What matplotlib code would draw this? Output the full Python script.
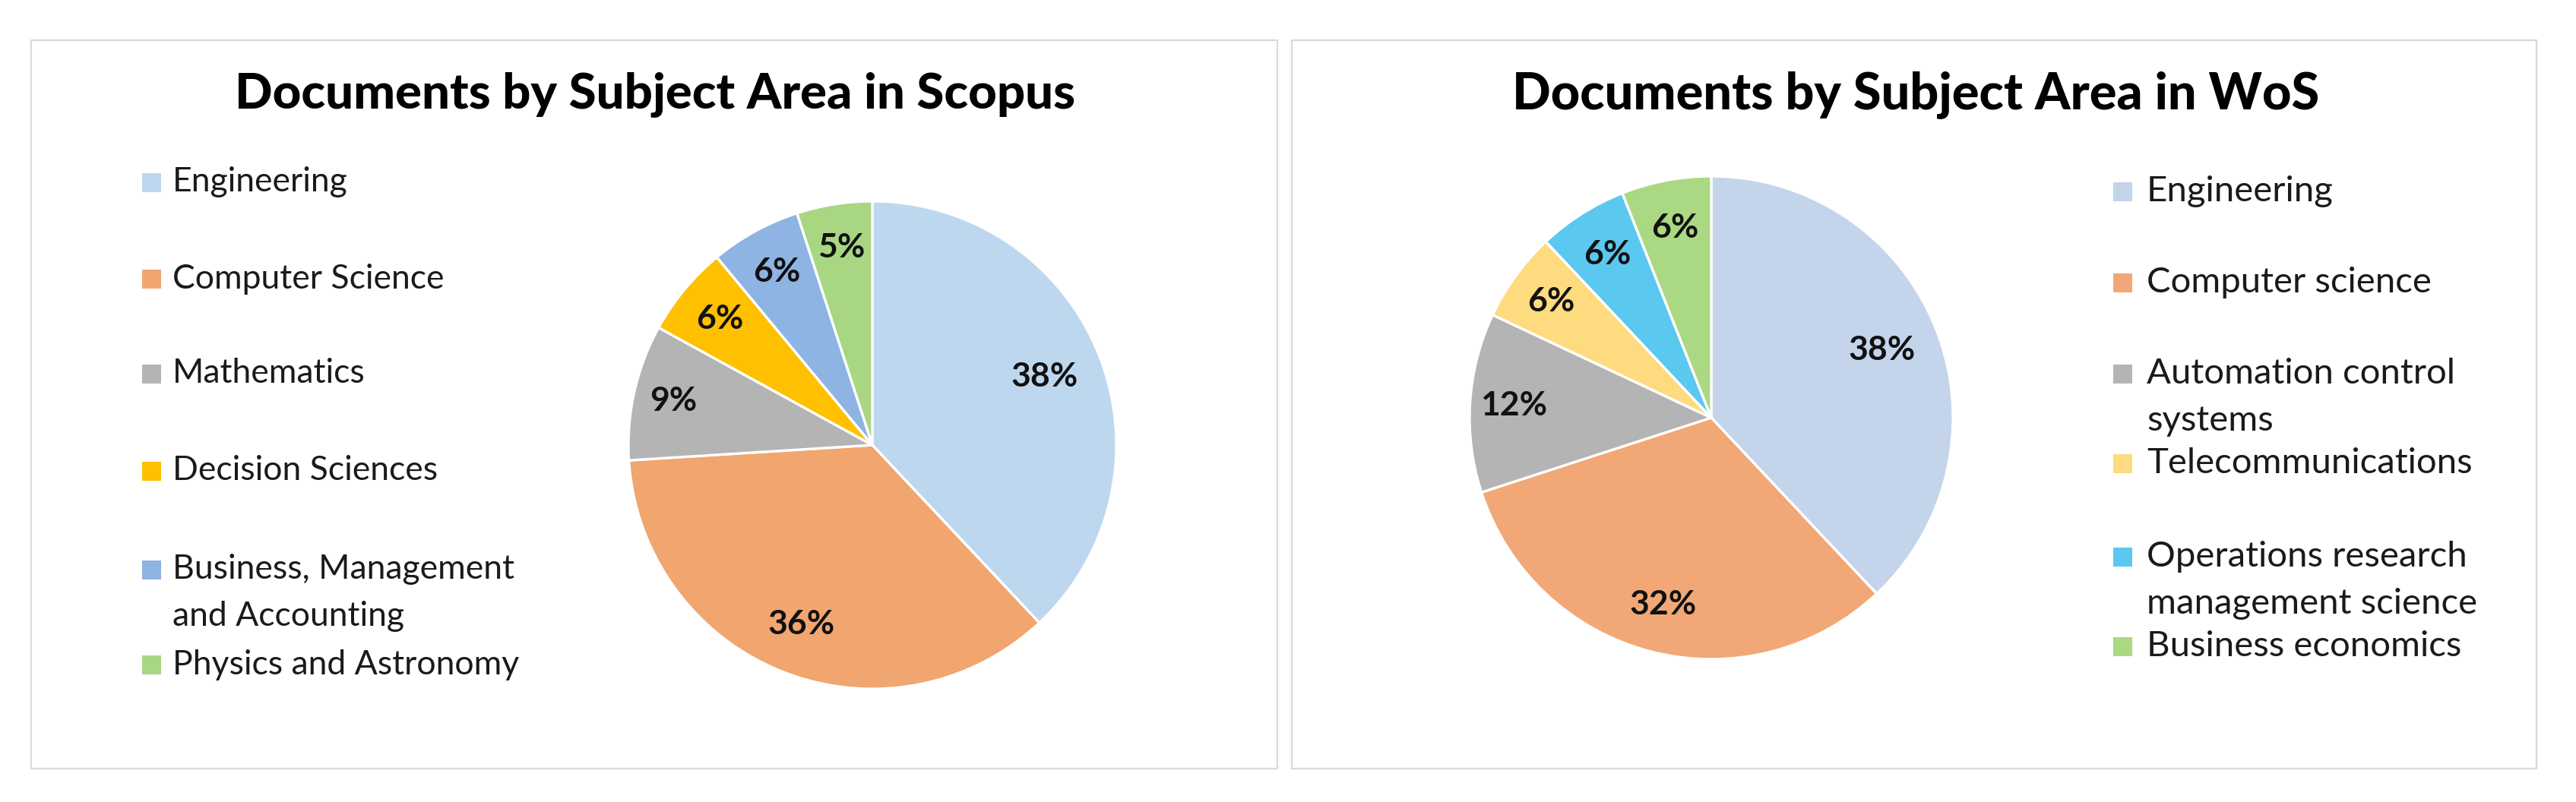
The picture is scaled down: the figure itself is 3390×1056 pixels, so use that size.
import numpy as np
import matplotlib
matplotlib.use("Agg")
import matplotlib.pyplot as plt
from matplotlib.patches import Rectangle

# ---------------- data ----------------
scopus_title = "Documents by Subject Area in Scopus"
scopus_labels = ["Engineering", "Computer Science", "Mathematics", "Decision Sciences",
                 "Business, Management\nand Accounting", "Physics and Astronomy"]
scopus_values = [38, 36, 9, 6, 6, 5]
scopus_colors = ["#BDD7EE", "#F1A56F", "#B4B4B4", "#FFC000", "#8DB4E2", "#A9D682"]

wos_title = "Documents by Subject Area in WoS"
wos_labels = ["Engineering", "Computer science", "Automation control\nsystems",
              "Telecommunications", "Operations research\nmanagement science",
              "Business economics"]
wos_values = [38, 32, 12, 6, 6, 6]
wos_colors = ["#C4D4EB", "#F1A876", "#B4B4B4", "#FFDB80", "#5BC8F0", "#ABD882"]

# ---------------- layout (pixels) ----------------
W, H = 3390, 1056
FONT = "Lato"
fig = plt.figure(figsize=(W / 100, H / 100), dpi=100)
fig.patch.set_facecolor("white")

bg = fig.add_axes([0, 0, 1, 1])
bg.set_xlim(0, W)
bg.set_ylim(H, 0)
bg.axis("off")
bg.set_zorder(0)

# panel borders
for (x0, x1) in [(41, 1681), (1700, 3338)]:
    bg.add_patch(Rectangle((x0, 53), x1 - x0, 1012 - 53, fill=False,
                           edgecolor="#D9D9D9", linewidth=1.6))


def draw_panel(title, tx, tsize, labels, values, colors, cx, cy, r, dists,
               mx, lx, ly, line_gap, lsize):
    bg.text(tx, 125, title, ha="center", va="center", fontsize=tsize,
            fontweight="black", family=FONT, color="#000000")
    ax = fig.add_axes([(cx - r) / W, (H - cy - r) / H, 2 * r / W, 2 * r / H])
    ax.set_zorder(1)
    wedges, _ = ax.pie(values, colors=colors, startangle=90, counterclock=False,
                       wedgeprops=dict(edgecolor="white", linewidth=2.4), radius=1)
    ax.set_xlim(-1, 1)
    ax.set_ylim(-1, 1)
    ax.set_aspect("equal")
    ax.patch.set_alpha(0)
    for w, d, v in zip(wedges, dists, values):
        a = np.deg2rad((w.theta1 + w.theta2) / 2)
        ax.text(d * np.cos(a), d * np.sin(a), f"{v}%", ha="center", va="center",
                fontsize=32, fontweight="bold", family=FONT, color="#111111")
    s = 25
    for lab, col, y in zip(labels, colors, ly):
        bg.add_patch(Rectangle((mx, y - s / 2), s, s, facecolor=col, edgecolor="none"))
        for i, line in enumerate(lab.split("\n")):
            bg.text(lx, y + i * line_gap, line, ha="left", va="center",
                    fontsize=lsize, family=FONT, color="#1A1A1A")


draw_panel(scopus_title, 862, 47, scopus_labels, scopus_values, scopus_colors,
           1148, 586, 321, [0.76, 0.79, 0.835, 0.81, 0.81, 0.82],
           187, 227, [240, 367, 492, 620, 750, 875], 62, 32)

draw_panel(wos_title, 2521, 48, wos_labels, wos_values, wos_colors,
           2252, 550, 318, [0.76, 0.80, 0.82, 0.82, 0.80, 0.80],
           2781, 2825, [252, 372, 492, 610, 733, 851], 62, 34)

fig.savefig("out.png", dpi=100, facecolor="white")
